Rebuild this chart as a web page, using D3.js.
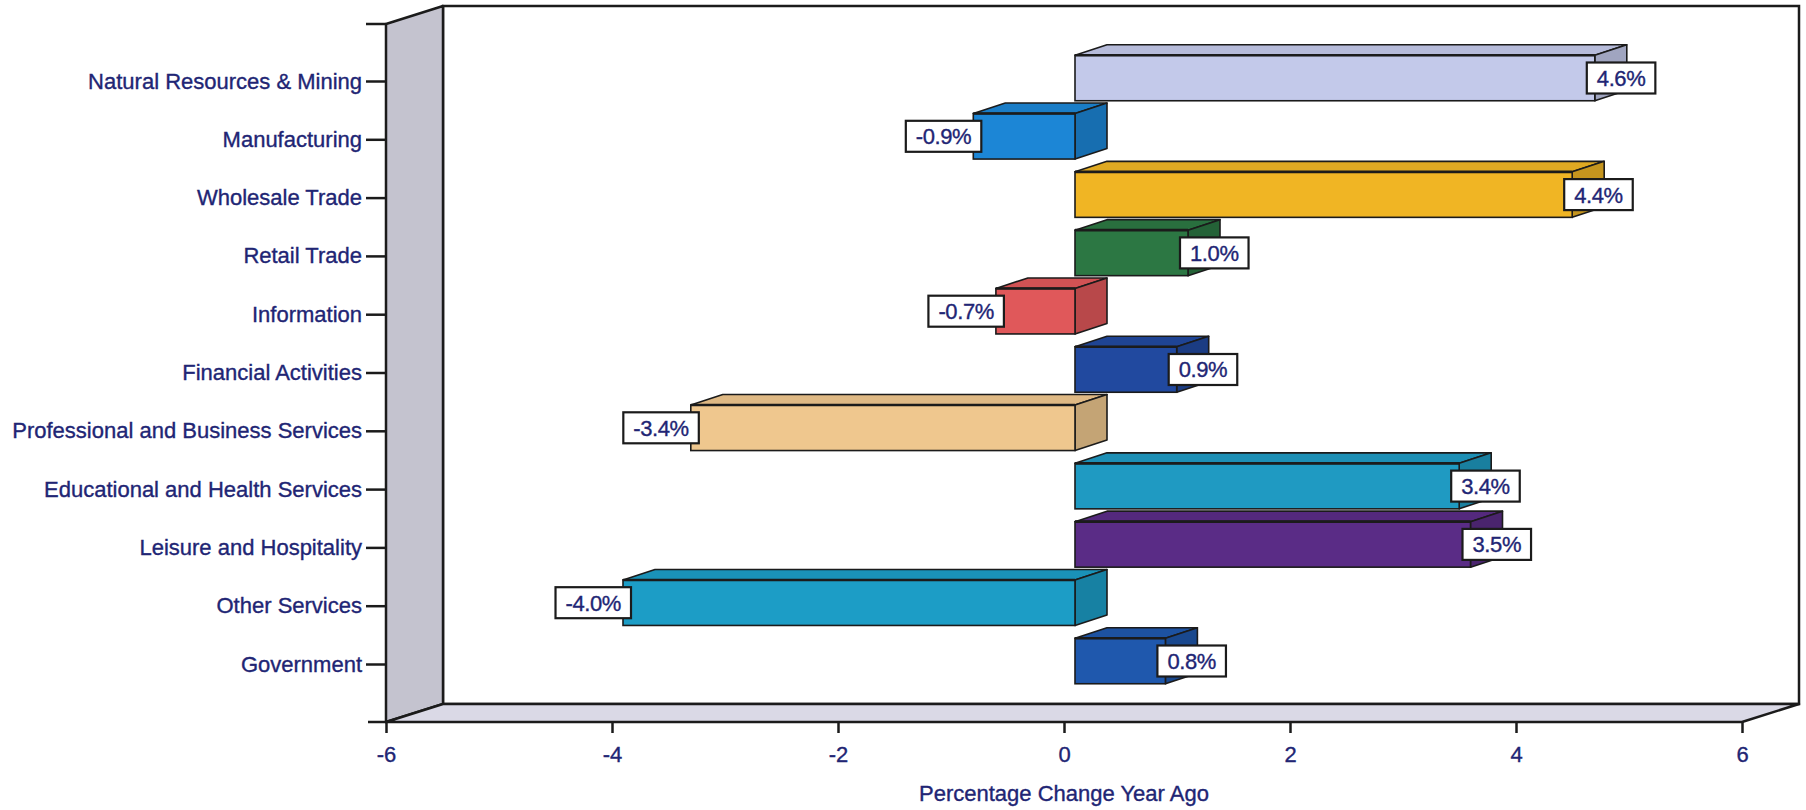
<!DOCTYPE html>
<html>
<head>
<meta charset="utf-8">
<script src="https://cdn.jsdelivr.net/npm/d3@7"></script>
<style>
  html, body { margin: 0; padding: 0; background: #ffffff; }
  svg { display: block; }
  text { font-family: "Liberation Sans", Arial, Helvetica, sans-serif; }
</style>
</head>
<body>
<svg id="chart" width="1806" height="810"></svg>
<script>
// ---- data ----
const categories = [
  "Natural Resources & Mining",
  "Manufacturing",
  "Wholesale Trade",
  "Retail Trade",
  "Information",
  "Financial Activities",
  "Professional and Business Services",
  "Educational and Health Services",
  "Leisure and Hospitality",
  "Other Services",
  "Government"
];
const values = [4.6, -0.9, 4.4, 1.0, -0.7, 0.9, -3.4, 3.4, 3.5, -4.0, 0.8];
const barColors = [
  "#c3c9ea", "#1c86d6", "#f0b524", "#2c7743", "#e0585a", "#21499f",
  "#efc78e", "#1f9ac2", "#5a2c86", "#1c9dc6", "#1f58ad"
];
const xTicks = [-6, -4, -2, 0, 2, 4, 6];
const xTitle = "Percentage Change Year Ago";

// ---- layout ----
const W = 1806, H = 810;
const frontLeft = 386, frontRight = 1742, frontTop = 24, frontBottom = 722;
const depth = { dx: 57, dy: -18 };
const barFront = { dx: 11, dy: -3 };
const barDepth = { dx: 32, dy: -10.5 };
const barHalf = 22.75;
const textColor = "#212574";
const edge = "#1b1b1b";

const locale = d3.formatLocale({ decimal: ".", thousands: ",", grouping: [3], currency: ["", ""], minus: "-" });
const fmtTick = locale.format("d");
const fmtVal = locale.format(".1f");

const svg = d3.select("#chart");
svg.append("rect").attr("width", W).attr("height", H).attr("fill", "#ffffff");

const x = d3.scaleLinear().domain([-6, 6]).range([frontLeft, frontRight]);
const y = d3.scalePoint().domain(categories).range([81, 664]);

const line = d3.line();

function styleText(sel, size) {
  sel.attr("fill", textColor).attr("font-size", size)
    .attr("font-family", "Liberation Sans, Arial, sans-serif")
    .attr("stroke", textColor).attr("stroke-width", 0.35);
}

// back wall
svg.append("rect")
  .attr("x", frontLeft + depth.dx).attr("y", frontTop + depth.dy)
  .attr("width", frontRight - frontLeft).attr("height", frontBottom - frontTop)
  .attr("fill", "#ffffff").attr("stroke", edge).attr("stroke-width", 2.5);

// left wall
svg.append("path")
  .attr("d", line([
    [frontLeft, frontTop], [frontLeft + depth.dx, frontTop + depth.dy],
    [frontLeft + depth.dx, frontBottom + depth.dy], [frontLeft, frontBottom]
  ]) + "Z")
  .attr("fill", "#c4c3cf").attr("stroke", edge).attr("stroke-width", 2.5)
  .attr("stroke-linejoin", "round");

// floor
svg.append("path")
  .attr("d", line([
    [frontLeft, frontBottom], [frontLeft + depth.dx, frontBottom + depth.dy],
    [frontRight + depth.dx, frontBottom + depth.dy], [frontRight, frontBottom]
  ]) + "Z")
  .attr("fill", "#dad9e6").attr("stroke", edge).attr("stroke-width", 2.5)
  .attr("stroke-linejoin", "round");

// y axis
const yAxis = d3.axisLeft(y).tickSize(20).tickPadding(4);
const gy = svg.append("g").attr("transform", `translate(${frontLeft},0)`).call(yAxis);
gy.select(".domain").remove();
gy.selectAll(".tick line").attr("stroke", edge).attr("stroke-width", 2.5);
gy.selectAll(".tick text").call(styleText, 22);

svg.append("line").attr("x1", frontLeft - 20).attr("x2", frontLeft)
  .attr("y1", frontTop).attr("y2", frontTop).attr("stroke", edge).attr("stroke-width", 2.5);
svg.append("line").attr("x1", frontLeft - 18).attr("x2", frontLeft)
  .attr("y1", frontBottom).attr("y2", frontBottom).attr("stroke", edge).attr("stroke-width", 2.5);

// x axis
const xAxis = d3.axisBottom(x).tickValues(xTicks).tickSize(11).tickPadding(13).tickFormat(fmtTick);
const gx = svg.append("g").attr("transform", `translate(0,${frontBottom})`).call(xAxis);
gx.select(".domain").remove();
gx.selectAll(".tick line").attr("stroke", edge).attr("stroke-width", 2.5);
gx.selectAll(".tick text").call(styleText, 22);

svg.append("text")
  .attr("x", x(0)).attr("y", 801)
  .attr("text-anchor", "middle")
  .call(styleText, 22)
  .text(xTitle);

// bars (3D boxes)
const data = categories.map((c, i) => ({ cat: c, value: values[i], color: barColors[i] }));
const barsG = svg.append("g");
data.forEach(d => {
  const x0 = x(Math.min(0, d.value)) + barFront.dx;
  const x1 = x(Math.max(0, d.value)) + barFront.dx;
  const yc = y(d.cat) + barFront.dy;
  const yt = yc - barHalf, yb = yc + barHalf;
  const ddx = barDepth.dx, ddy = barDepth.dy;
  const base = d3.color(d.color);
  const g = barsG.append("g");
  g.append("path")
    .attr("d", line([[x0, yt], [x0 + ddx, yt + ddy], [x1 + ddx, yt + ddy], [x1, yt]]) + "Z")
    .attr("fill", base.darker(0.2)).attr("stroke", edge).attr("stroke-width", 1.6)
    .attr("stroke-linejoin", "round");
  g.append("path")
    .attr("d", line([[x1, yt], [x1 + ddx, yt + ddy], [x1 + ddx, yb + ddy], [x1, yb]]) + "Z")
    .attr("fill", base.darker(0.55)).attr("stroke", edge).attr("stroke-width", 1.6)
    .attr("stroke-linejoin", "round");
  g.append("rect")
    .attr("x", x0).attr("y", yt).attr("width", x1 - x0).attr("height", yb - yt)
    .attr("fill", base).attr("stroke", edge).attr("stroke-width", 1.6);
  g.append("line").attr("x1", x0).attr("x2", x1).attr("y1", yt).attr("y2", yt)
    .attr("stroke", edge).attr("stroke-width", 2.6);
});

// value labels
const labelsG = svg.append("g");
data.forEach(d => {
  const xEnd = x(d.value) + barFront.dx;
  const yc = y(d.cat) + barFront.dy;
  const g = labelsG.append("g");
  const t = g.append("text")
    .attr("y", yc).attr("dy", "0.36em")
    .call(styleText, 22)
    .attr("letter-spacing", "-0.4")
    .text(fmtVal(d.value) + "%");
  const tw = t.node().getComputedTextLength();
  const pad = 10;
  const bw = tw + 2 * pad, bh = 31;
  const bx = d.value >= 0 ? xEnd - 8 : xEnd + 8 - bw;
  g.insert("rect", "text")
    .attr("x", bx).attr("y", yc - bh / 2).attr("width", bw).attr("height", bh)
    .attr("fill", "#ffffff").attr("stroke", edge).attr("stroke-width", 2.2);
  t.attr("x", bx + pad);
});
</script>
</body>
</html>
